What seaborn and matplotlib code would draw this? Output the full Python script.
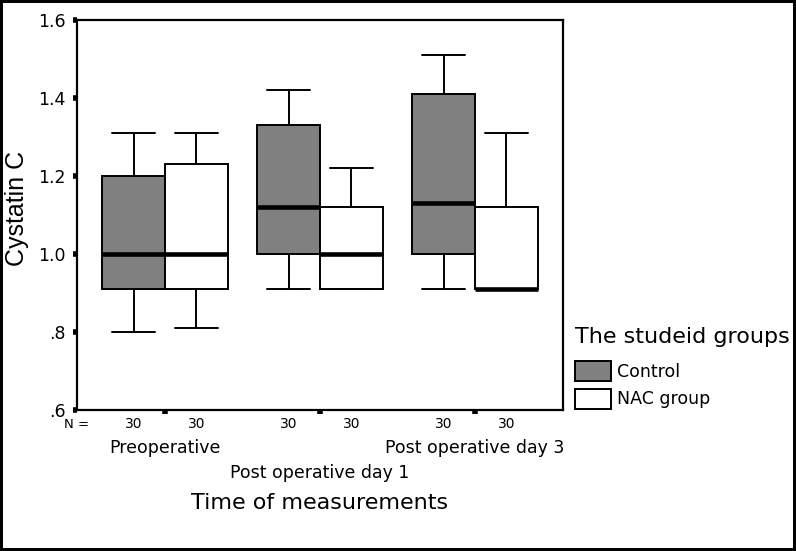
import numpy as np
import pandas as pd
import matplotlib
matplotlib.use("Agg")
import matplotlib.pyplot as plt
import matplotlib.transforms as mtransforms
from matplotlib.patches import Patch
import seaborn as sns

# ---- data (five-number summaries) ----
times = ["Preoperative", "Post operative day 1", "Post operative day 3"]
groups = ["Control", "NAC group"]
# each list: [min, Q1, median, Q3, max]
control_stats = [
    [0.80, 0.91, 1.00, 1.20, 1.31],
    [0.91, 1.00, 1.12, 1.33, 1.42],
    [0.91, 1.00, 1.13, 1.41, 1.51],
]
nac_stats = [
    [0.81, 0.91, 1.00, 1.23, 1.31],
    [0.91, 0.91, 1.00, 1.12, 1.22],
    [0.91, 0.91, 0.91, 1.12, 1.31],
]
n_control = [30, 30, 30]
n_nac = [30, 30, 30]
ytick_vals = [0.6, 0.8, 1.0, 1.2, 1.4, 1.6]
ytick_labels = [".6", ".8", "1.0", "1.2", "1.4", "1.6"]

rows = []
for t, cs, ns in zip(times, control_stats, nac_stats):
    for v in cs:
        rows.append({"time": t, "group": "Control", "value": v})
    for v in ns:
        rows.append({"time": t, "group": "NAC group", "value": v})
df = pd.DataFrame(rows)

sns.set_theme(style="white")
plt.rcParams["font.family"] = ["DejaVu Sans"]
plt.rcParams["text.color"] = "black"
plt.rcParams["axes.labelcolor"] = "black"
plt.rcParams["xtick.color"] = "black"
plt.rcParams["ytick.color"] = "black"

fig = plt.figure(figsize=(7.96, 5.51), dpi=100)
fig.patch.set_facecolor("white")
fig.patch.set_edgecolor("black")
fig.patch.set_linewidth(3)
ax = fig.add_axes([77 / 796, 1 - 410 / 551, (563 - 77) / 796, (410 - 20) / 551])

palette = {"Control": "#808080", "NAC group": "#ffffff"}
sns.boxplot(
    data=df, x="time", y="value", hue="group", order=times, hue_order=groups,
    palette=palette, saturation=1, width=0.81, gap=0, dodge=True,
    whis=(0, 100), linecolor="black", linewidth=1.4,
    medianprops={"linewidth": 3.3, "color": "black"},
    capwidths=0.28, legend=False, ax=ax,
)

ax.set_xlim(-0.568, 2.568)
ax.set_ylim(0.6, 1.6)
ax.set_yticks(ytick_vals)
ax.set_yticklabels(ytick_labels, fontsize=12.5)
ax.set_xticks([0, 1, 2])
ax.set_xticklabels(["", "", ""])
ax.tick_params(axis="both", direction="out", length=3, width=4, color="black",
               left=True, bottom=True, pad=5)
for s in ax.spines.values():
    s.set_color("black")
    s.set_linewidth(1.6)
ax.set_xlabel("")
ax.set_ylabel("")

tr = mtransforms.blended_transform_factory(ax.transData, fig.transFigure)
def fy(px):
    return 1 - px / 551

fig.text(17 / 796, fy(208), "Cystatin C", fontsize=18, rotation=90,
         ha="center", va="center", family="Liberation Sans")
fig.text(77 / 796, fy(424), "N =", fontsize=9.5, ha="center", va="center")
half = 0.81 / 4
for i in range(3):
    ax.text(i - half, fy(424), str(n_control[i]), transform=tr, fontsize=10,
            ha="center", va="center")
    ax.text(i + half, fy(424), str(n_nac[i]), transform=tr, fontsize=10,
            ha="center", va="center")
label_y = [448, 473, 448]
for i, t in enumerate(times):
    ax.text(i, fy(label_y[i]), t, transform=tr, fontsize=12.5,
            ha="center", va="center")
ax.text(1, fy(503), "Time of measurements", transform=tr, fontsize=16,
        ha="center", va="center")

handles = [Patch(facecolor=palette[g], edgecolor="black", linewidth=1.4, label=g)
           for g in groups]
leg = fig.legend(handles=handles, title="The studeid groups", loc="upper left",
                 bbox_to_anchor=(568 / 796, fy(320)), frameon=False,
                 fontsize=12.5, title_fontsize=16, handlelength=2.1,
                 handleheight=1.39, handletextpad=0.35, labelspacing=0.45,
                 borderaxespad=0)
leg._legend_box.align = "left"
leg._legend_box.sep = 10

fig.savefig("out.png", dpi=100)
